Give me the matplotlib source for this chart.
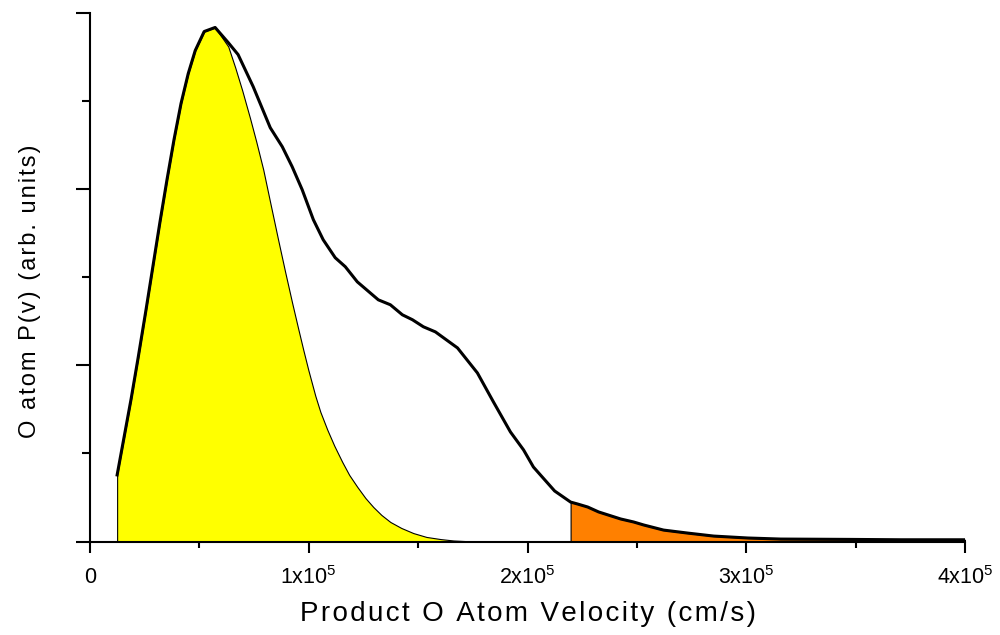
import matplotlib
matplotlib.use('Agg')
import matplotlib.pyplot as plt
from matplotlib.ticker import MultipleLocator, FixedLocator
import numpy as np

plt.rcParams['font.family'] = ['Liberation Sans', 'DejaVu Sans']
plt.rcParams['mathtext.fontset'] = 'custom'
plt.rcParams['mathtext.rm'] = 'Liberation Sans'
plt.rcParams['mathtext.default'] = 'regular'

# measured P(v), velocity in units of 1e5 cm/s
v_rise = [0.124, 0.156, 0.188, 0.220, 0.256, 0.288, 0.320, 0.352, 0.384, 0.416,
          0.449, 0.481, 0.522, 0.572]
p_rise = [0.378, 0.594, 0.810, 1.043, 1.315, 1.565, 1.815, 2.054, 2.281, 2.486,
          2.656, 2.787, 2.895, 2.918]

# full distribution after the peak
v_total_tail = [0.632, 0.677, 0.746, 0.824, 0.879, 0.924, 0.970, 1.021, 1.066, 1.121,
                1.167, 1.222, 1.318, 1.373, 1.428, 1.474, 1.524, 1.579, 1.680, 1.771,
                1.844, 1.922, 1.982, 2.027, 2.059, 2.124, 2.197, 2.229, 2.275, 2.325,
                2.426, 2.485, 2.531, 2.622, 2.732, 2.851, 3.007, 3.158, 3.478, 3.707, 4.000]
p_total_tail = [2.832, 2.764, 2.582, 2.349, 2.241, 2.128, 1.997, 1.827, 1.713, 1.611,
                1.560, 1.474, 1.372, 1.344, 1.287, 1.259, 1.219, 1.190, 1.099, 0.957,
                0.793, 0.622, 0.520, 0.423, 0.378, 0.287, 0.224, 0.213, 0.196, 0.168,
                0.128, 0.111, 0.094, 0.065, 0.048, 0.031, 0.020, 0.014, 0.012, 0.010, 0.010]

# slow (statistical) component after the peak
v_slow_tail = [0.632, 0.664, 0.696, 0.732, 0.760, 0.792, 0.824, 0.860, 0.892, 0.924,
               0.952, 0.975, 0.998, 1.030, 1.053, 1.085, 1.117, 1.153, 1.185, 1.222,
               1.259, 1.295, 1.332, 1.373, 1.423, 1.478, 1.538, 1.602, 1.661, 1.725,
               1.876, 2.010]
p_slow_tail = [2.810, 2.690, 2.560, 2.401, 2.270, 2.111, 1.923, 1.713, 1.531, 1.355,
               1.207, 1.088, 0.974, 0.827, 0.736, 0.634, 0.543, 0.452, 0.378, 0.310,
               0.247, 0.196, 0.151, 0.111, 0.077, 0.048, 0.026, 0.014, 0.006, 0.002,
               0.0, 0.0]

v_fast_start = 2.197   # start of the shaded fast tail

SCALE = 1e5
HS = '\u200a'  # hair space for the wide letter spacing of the original


def spaced(s):
    return HS.join(s)


fig = plt.figure(figsize=(10, 6.35), dpi=100)
ax = fig.add_axes([0.09, 0.1472, 0.875, 0.8323])

vt = np.array(v_rise + v_total_tail) * SCALE
pt = np.array(p_rise + p_total_tail)
vs = np.array(v_rise + v_slow_tail) * SCALE
ps = np.array(p_rise + p_slow_tail)

ax.fill_between(vs, ps, 0, facecolor='#FFFF00', edgecolor='black', lw=0.8, zorder=1)
m = vt >= v_fast_start * SCALE
ax.fill_between(vt[m], pt[m], 0, facecolor='#FF8000', edgecolor='black', lw=0.8, zorder=1)
ax.plot(vt, pt, color='black', lw=2.2, zorder=3, solid_joinstyle='round')

ax.set_xlim(0, 4e5)
ax.set_ylim(0, 3.0)

for s in ('top', 'right'):
    ax.spines[s].set_visible(False)
for s in ('left', 'bottom'):
    ax.spines[s].set_linewidth(1.5)

ax.xaxis.set_major_locator(FixedLocator([0, 1e5, 2e5, 3e5, 4e5]))
ax.xaxis.set_minor_locator(MultipleLocator(0.5e5))
ax.set_xticklabels(['0', '1x10$^5$', '2x10$^5$', '3x10$^5$', '4x10$^5$'])
ax.yaxis.set_major_locator(MultipleLocator(1.0))
ax.yaxis.set_minor_locator(MultipleLocator(0.5))
ax.set_yticklabels([])

ax.tick_params(axis='x', which='major', direction='out', length=8, width=1.5,
               labelsize=15.5, pad=10)
ax.tick_params(axis='x', which='minor', direction='out', length=4.5, width=1.5)
ax.tick_params(axis='y', which='major', direction='out', length=10, width=1.5)
ax.tick_params(axis='y', which='minor', direction='out', length=6, width=1.5)

ax.set_xlabel(spaced('Product O Atom Velocity (cm/s)'), fontsize=20, labelpad=8)
ax.set_ylabel(spaced('O atom P(v) (arb. units)'), fontsize=17)
ax.yaxis.set_label_coords(-0.056, 0.474)

fig.savefig('out.png', dpi=100)
